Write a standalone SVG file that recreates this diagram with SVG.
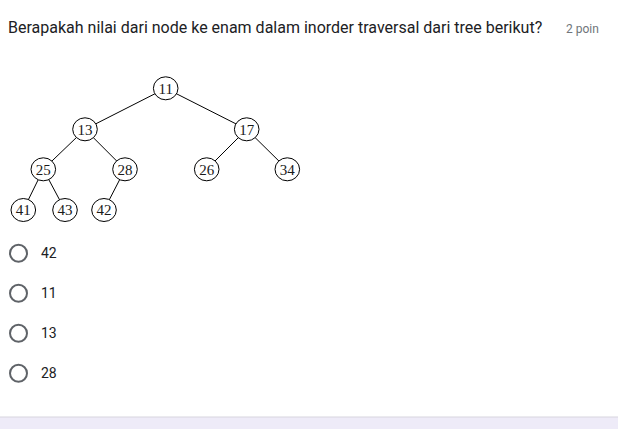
<svg xmlns="http://www.w3.org/2000/svg" width="618" height="429" viewBox="0 0 618 429">
<style>
.q{font-family:Roboto,"Liberation Sans",sans-serif;font-size:16px;fill:#202124}
.pt{font-family:Roboto,"Liberation Sans",sans-serif;font-size:12px;fill:#70757a}
.opt{font-family:Roboto,"Liberation Sans",sans-serif;font-size:14px;fill:#202124}
.radio{fill:none;stroke:#5f6368;stroke-width:2}
.node ellipse{fill:#fff;stroke:#000;stroke-width:1}
.node text{font-family:"Liberation Serif","DejaVu Serif",serif;font-size:15px;fill:#1a1a1a;text-anchor:middle}
.edge{stroke:#000;stroke-width:1}
</style>
<rect width="618" height="429" fill="#fff"/>
<text class="q" x="8" y="33">Berapakah nilai dari node ke enam dalam inorder traversal dari tree berikut?</text>
<text class="pt" x="566" y="33">2 poin</text>
<g id="connectors">
<line class="edge" x1="165.7" y1="88.3" x2="85" y2="129.3"/>
<line class="edge" x1="165.7" y1="88.3" x2="246.7" y2="129.3"/>
<line class="edge" x1="85" y1="129.3" x2="43.3" y2="169.3"/>
<line class="edge" x1="85" y1="129.3" x2="125" y2="169.3"/>
<line class="edge" x1="246.7" y1="129.3" x2="206.7" y2="169.3"/>
<line class="edge" x1="246.7" y1="129.3" x2="287.3" y2="169.3"/>
<line class="edge" x1="43.3" y1="169.3" x2="23.3" y2="210"/>
<line class="edge" x1="43.3" y1="169.3" x2="65" y2="210"/>
<line class="edge" x1="125" y1="169.3" x2="104" y2="210"/>
</g>
<g id="n11" class="node"><ellipse cx="165.7" cy="88.3" rx="12.3" ry="11.5"/><text x="165.7" y="93.5">11</text></g>
<g id="n13" class="node"><ellipse cx="85" cy="129.3" rx="12.3" ry="11.5"/><text x="85" y="134.5">13</text></g>
<g id="n17" class="node"><ellipse cx="246.7" cy="129.3" rx="12.3" ry="11.5"/><text x="246.7" y="134.5">17</text></g>
<g id="n25" class="node"><ellipse cx="43.3" cy="169.3" rx="12.3" ry="11.5"/><text x="43.3" y="174.5">25</text></g>
<g id="n28" class="node"><ellipse cx="125" cy="169.3" rx="12.3" ry="11.5"/><text x="125" y="174.5">28</text></g>
<g id="n26" class="node"><ellipse cx="206.7" cy="169.3" rx="12.3" ry="11.5"/><text x="206.7" y="174.5">26</text></g>
<g id="n34" class="node"><ellipse cx="287.3" cy="169.3" rx="12.3" ry="11.5"/><text x="287.3" y="174.5">34</text></g>
<g id="n41" class="node"><ellipse cx="23.3" cy="210" rx="12.3" ry="11.5"/><text x="23.3" y="215.2">41</text></g>
<g id="n43" class="node"><ellipse cx="65" cy="210" rx="12.3" ry="11.5"/><text x="65" y="215.2">43</text></g>
<g id="n42" class="node"><ellipse cx="104" cy="210" rx="12.3" ry="11.5"/><text x="104" y="215.2">42</text></g>
<g id="options">
<circle class="radio" cx="18.5" cy="253.3" r="8.5"/><text class="opt" x="41" y="258">42</text>
<circle class="radio" cx="18.5" cy="293.3" r="8.5"/><text class="opt" x="41" y="298">11</text>
<circle class="radio" cx="18.5" cy="333.3" r="8.5"/><text class="opt" x="41" y="338">13</text>
<circle class="radio" cx="18.5" cy="373.3" r="8.5"/><text class="opt" x="41" y="378">28</text>
</g>
<rect x="0" y="417" width="618" height="12" fill="#eeebf8"/>
<line x1="0" y1="417" x2="618" y2="417" stroke="#d7d5de" stroke-width="1"/>
</svg>
